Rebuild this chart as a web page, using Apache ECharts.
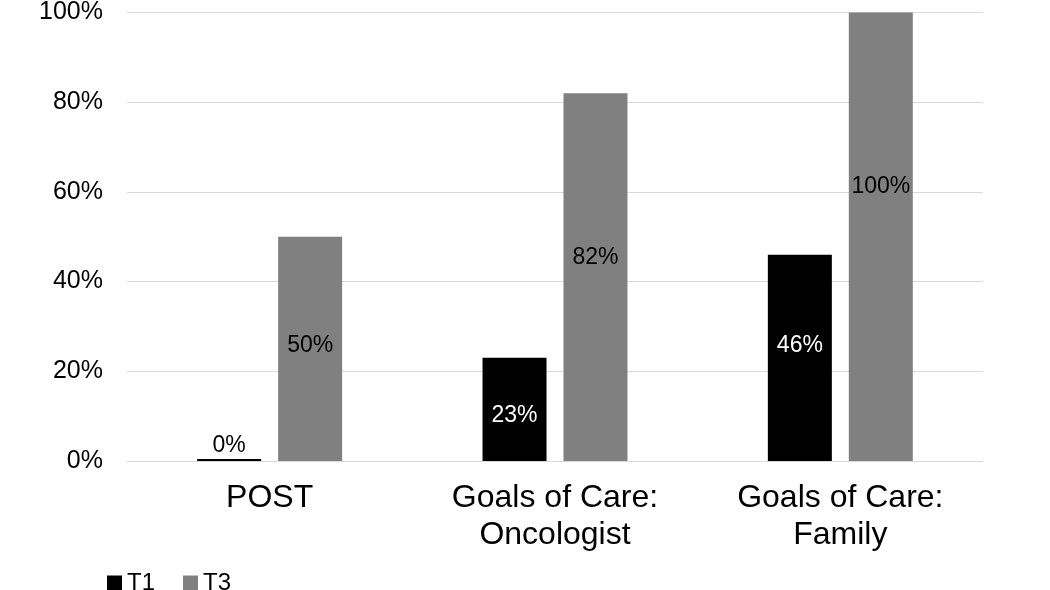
<!DOCTYPE html>
<html>
<head>
<meta charset="utf-8">
<script src="https://cdn.jsdelivr.net/npm/echarts@6/dist/echarts.min.js"></script>
<style>html,body{margin:0;padding:0;background:#fff;}#c{width:1050px;height:590px;}</style>
</head>
<body>
<div id="c"></div>
<script>
const categories = ['POST', 'Goals of Care:\nOncologist', 'Goals of Care:\nFamily'];
const seriesNames = ['T1', 'T3'];
const t1Values = [0, 23, 46];
const t3Values = [50, 82, 100];
const yTicks = [0, 20, 40, 60, 80, 100];
// label vertical nudges (px) as placed in the original
const t1LabelShift = [0, 6, -12];
const t3LabelShift = [-3, -19, -50];

const chart = echarts.init(document.getElementById('c'), null, {renderer: 'canvas'});
const font = 'Arial, "Liberation Sans", sans-serif';

function buildData(vals, shifts, insideColor) {
  return vals.map((v, i) => v === 0
    ? {value: v, label: {position: 'top', color: '#000', distance: 2}}
    : {value: v, label: {position: 'inside', color: insideColor, offset: [0, shifts[i]]}});
}

chart.setOption({
  animation: false,
  backgroundColor: '#fff',
  grid: {left: 127, right: 67, top: 11, bottom: 129, containLabel: false},
  legend: {
    left: 102, top: 566, itemWidth: 15, itemHeight: 15, itemGap: 28,
    icon: 'rect',
    textStyle: {fontSize: 24, color: '#000', fontFamily: font},
    data: seriesNames
  },
  xAxis: {
    type: 'category', data: categories,
    axisLine: {show: true, lineStyle: {color: '#d9d9d9', width: 1}},
    axisTick: {show: false},
    axisLabel: {fontSize: 32, color: '#000', fontFamily: font, lineHeight: 37, margin: 19, interval: 0}
  },
  yAxis: {
    type: 'value', min: 0, max: 100, interval: 20,
    axisLine: {show: false}, axisTick: {show: false},
    splitLine: {lineStyle: {color: '#d9d9d9', width: 1}},
    axisLabel: {fontSize: 25, color: '#000', fontFamily: font, margin: 24,
      formatter: v => yTicks.includes(v) ? v + '%' : ''}
  },
  series: [
    {name: seriesNames[0], type: 'bar', barWidth: 64, barGap: '26.5%', barMinHeight: 2,
     itemStyle: {color: '#000000'},
     label: {show: true, fontSize: 23, fontFamily: font, formatter: p => p.value + '%'},
     data: buildData(t1Values, t1LabelShift, '#fff')},
    {name: seriesNames[1], type: 'bar', barWidth: 64,
     itemStyle: {color: '#808080'},
     label: {show: true, fontSize: 23, fontFamily: font, formatter: p => p.value + '%'},
     data: buildData(t3Values, t3LabelShift, '#000')}
  ]
});
</script>
</body>
</html>
